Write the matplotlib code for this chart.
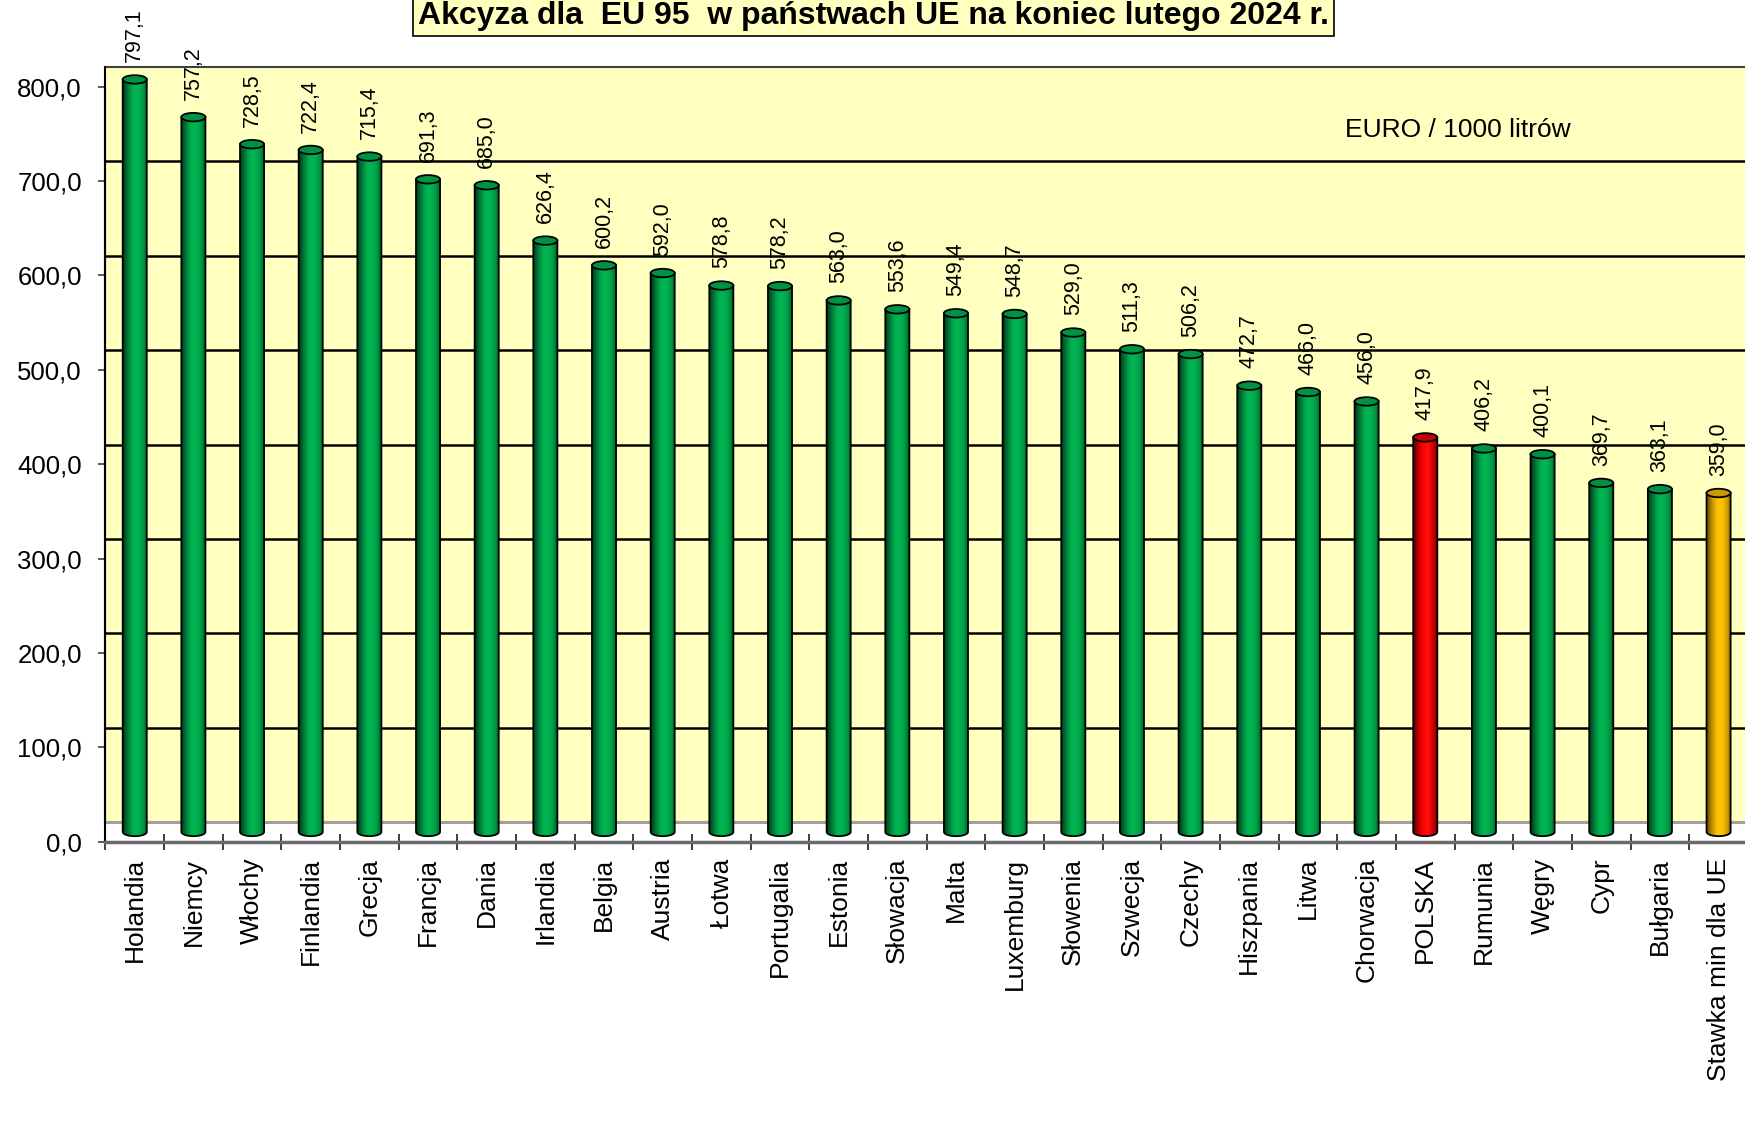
import numpy as np
import matplotlib
matplotlib.use("Agg")
import matplotlib.pyplot as plt
from matplotlib.transforms import ScaledTranslation
from matplotlib.patches import Ellipse, PathPatch
from matplotlib.path import Path
from matplotlib.colors import LinearSegmentedColormap

plt.rcParams['font.family'] = ['Liberation Sans', 'DejaVu Sans']

# dane: akcyza EU 95, EURO / 1000 litrow
countries = ["Holandia", "Niemcy", "Włochy", "Finlandia", "Grecja", "Francja", "Dania",
             "Irlandia", "Belgia", "Austria", "Łotwa", "Portugalia", "Estonia", "Słowacja",
             "Malta", "Luxemburg", "Słowenia", "Szwecja", "Czechy", "Hiszpania", "Litwa",
             "Chorwacja", "POLSKA", "Rumunia", "Węgry", "Cypr", "Bułgaria", "Stawka min dla UE"]
values = [797.1, 757.2, 728.5, 722.4, 715.4, 691.3, 685.0, 626.4, 600.2, 592.0, 578.8,
          578.2, 563.0, 553.6, 549.4, 548.7, 529.0, 511.3, 506.2, 472.7, 466.0, 456.0,
          417.9, 406.2, 400.1, 369.7, 363.1, 359.0]
yticks = [0, 100, 200, 300, 400, 500, 600, 700, 800]

# kolory walcow: (gradient, wierzch)
styles = {
    'green': (['#003a18', '#007a36', '#00b050', '#00b452', '#009a45', '#005c28'], '#009243'),
    'red': (['#500000', '#b00000', '#ff0000', '#ff1010', '#d00000', '#700000'], '#c80000'),
    'gold': (['#6a4c00', '#c09000', '#ffc000', '#ffc400', '#d8a000', '#7a5800'], '#c89a00'),
}

def barStyle(name):
    if name == "POLSKA":
        return 'red'
    if name.startswith("Stawka"):
        return 'gold'
    return 'green'

fig = plt.figure(figsize=(17.45, 11.4), dpi=100)
ax = fig.add_axes([105.4 / 1745, (1140 - 841.7) / 1140, 1642.5 / 1745, 755.2 / 1140])
ax.set_xlim(-0.5, 27.5)
ax.set_ylim(0, 800)
ax.patch.set_visible(False)

# przesuniecie "3D": tylna sciana i walce
wallT = ax.transData + ScaledTranslation(0, 0.196, fig.dpi_scale_trans)
barT = ax.transData + ScaledTranslation(0, 0.098, fig.dpi_scale_trans)

# floor white + wall yellow
ax.add_patch(plt.Rectangle((-0.5, 0), 28.5, 800, transform=wallT, fc='#ffffc0',
                           ec='none', zorder=0, clip_on=False))
for v in yticks[1:-1]:
    ax.plot([-0.5, 28], [v, v], transform=wallT, color='black', lw=1.8, zorder=1, clip_on=False)
ax.plot([-0.5, 28], [0, 0], transform=wallT, color='#a0a0a0', lw=2.2, zorder=1, clip_on=False)
ax.plot([-0.5, 28], [800, 800], transform=wallT, color='#404040', lw=1.5, zorder=1, clip_on=False)
ax.plot([-0.5, -0.5], [0, 800], transform=wallT, color='black', lw=1.5, zorder=1, clip_on=False)

w = 0.41
eh = 4.5
t = np.linspace(np.pi, 2 * np.pi, 40)
grad = np.linspace(0, 1, 128).reshape(1, -1)

for i, (name, v) in enumerate(zip(countries, values)):
    cols, topc = styles[barStyle(name)]
    cmap = LinearSegmentedColormap.from_list('c' + str(i), cols)
    x0, x1 = i - w / 2, i + w / 2
    verts = [(x0, v), (x0, 0)]
    verts += list(zip(i + w / 2 * np.cos(t), eh * np.sin(t)))
    verts += [(x1, 0), (x1, v), (x0, v)]
    codes = [Path.MOVETO] + [Path.LINETO] * (len(verts) - 2) + [Path.CLOSEPOLY]
    body = Path(verts, codes)
    clip = PathPatch(body, transform=barT)
    im = ax.imshow(grad, cmap=cmap, extent=[x0, x1, -eh, v], aspect='auto',
                   origin='lower', interpolation='bilinear', zorder=3)
    im.set_transform(barT)
    im.set_clip_box(fig.bbox)
    im.set_clip_path(clip)
    ax.add_patch(PathPatch(body, fc='none', ec='black', lw=1.3, transform=barT, zorder=4,
                           clip_on=False))
    ax.add_patch(Ellipse((i, v), w, 2 * eh, fc=topc, ec='black', lw=1.3, transform=barT,
                         zorder=5, clip_on=False))
    ax.annotate(f"{v:.1f}".replace('.', ','), xy=(i, v), xycoords=barT,
                xytext=(0, 12.5), textcoords='offset points', rotation=90,
                ha='center', va='bottom', fontsize=15.5, zorder=6, annotation_clip=False)

ax.set_xlim(-0.5, 27.5)
ax.set_ylim(0, 800)

# osie
for s in ['top', 'right']:
    ax.spines[s].set_visible(False)
ax.spines['left'].set_color('black')
ax.spines['left'].set_linewidth(1.5)
ax.spines['bottom'].set_color('#6a6a6a')
ax.spines['bottom'].set_linewidth(2.5)

ax.set_yticks(yticks)
ax.set_yticklabels([f"{v:.1f}".replace('.', ',') for v in yticks], fontsize=18.5)
ax.tick_params(axis='y', direction='out', length=5, width=1.2, color='#404040', pad=12)

ax.set_xticks(np.arange(-0.5, 28, 1))
ax.set_xticklabels([])
ax.tick_params(axis='x', which='major', direction='inout', length=11.5, width=1.3, color='#303030')
ax.set_xticks(np.arange(len(countries)), minor=True)
ax.set_xticklabels(countries, minor=True, rotation=90, fontsize=19, va='top', ha='center')
ax.tick_params(axis='x', which='minor', length=0, pad=11.5)

fig.text(1345 / 1745, 1 - 136.7 / 1140, "EURO / 1000 litrów", fontsize=19,
         ha='left', va='baseline')
fig.text(873.5 / 1745, 1 - 24 / 1140, "Akcyza dla  EU 95  w państwach UE na koniec lutego 2024 r.",
         fontsize=23, fontweight='bold', ha='center', va='baseline',
         bbox=dict(boxstyle='square,pad=0.15', fc='#ffffc0', ec='black', lw=1.2))

fig.savefig("out.png", dpi=100)
